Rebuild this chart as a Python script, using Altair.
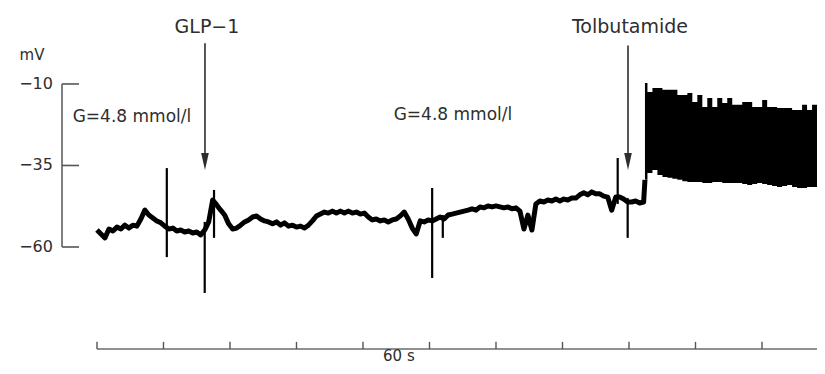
import altair as alt
import pandas as pd

# ---------------- data (seconds, mV) ----------------
DT = 0.6  # sampling step of the resting trace, s
trace_mv = [
    -54.8, -56.0, -57.2, -54.5, -55.1, -53.9, -54.5, -53.3, -54.2, -53.3,
    -53.6, -51.4, -48.7, -50.2, -51.1, -52.0, -52.6, -53.6, -54.5, -54.2,
    -55.1, -54.8, -55.4, -55.1, -55.7, -55.4, -56.3, -54.8, -52.3, -45.6,
    -47.1, -48.7, -50.2, -52.9, -54.5, -54.2, -53.3, -52.3, -51.7, -50.8,
    -50.5, -51.4, -52.0, -52.3, -52.9, -52.3, -53.3, -52.6, -53.6, -53.3,
    -53.9, -53.6, -54.2, -53.3, -52.0, -50.5, -49.9, -49.3, -49.6, -49.0,
    -49.6, -49.0, -49.6, -49.0, -49.6, -49.3, -49.9, -49.6, -50.8, -51.7,
    -51.4, -52.0, -51.7, -52.3, -51.7, -51.4, -50.5, -49.3, -51.4, -54.2,
    -56.0, -52.0, -52.3, -51.7, -52.0, -51.4, -50.8, -51.4, -50.2, -49.9,
    -49.6, -49.3, -49.0, -48.7, -48.3, -48.7, -47.7, -48.0, -47.4, -47.7,
    -47.4, -47.7, -48.0, -47.7, -48.3, -48.0, -49.0, -54.5, -50.2, -54.8,
    -46.8, -45.9, -46.2, -45.6, -45.9, -45.3, -45.9, -45.3, -45.6, -45.0,
    -45.0, -44.0, -43.4, -44.0, -43.1, -43.7, -43.7, -44.4, -44.7, -48.7,
    -44.7, -44.7, -45.3, -46.2, -46.2, -45.9, -46.5, -46.2,
]

spike_t = [10.5, 16.2, 17.6, 50.4, 52.0, 78.3, 79.8]
spike_top = [-35.8, -52.3, -42.5, -41.9, -50.2, -32.7, -45.0]
spike_bottom = [-63.1, -74.1, -57.2, -69.5, -57.2, -46.8, -57.2]

BURST_T0 = 82.4
BURST_DT = 0.75
burst_upper = [
    -9.7, -12.5, -11.2, -11.2, -11.8, -11.8, -11.8, -13.4, -13.4, -12.8,
    -15.5, -13.4, -17.1, -14.3, -17.1, -14.3, -15.8, -14.3, -16.4, -16.4,
    -15.5, -15.5, -17.1, -17.1, -14.9, -17.1, -17.1, -17.4, -17.4, -17.4,
    -18.0, -18.0, -16.4, -18.0, -16.4, -17.4,
]
burst_lower = [
    -39.4, -37.3, -36.4, -37.9, -38.5, -38.8, -39.1, -39.4, -39.8, -40.1,
    -40.1, -40.1, -40.4, -40.4, -40.1, -40.1, -40.4, -40.4, -40.4, -40.4,
    -40.7, -41.0, -40.7, -40.4, -40.7, -41.0, -41.3, -41.6, -41.3, -41.0,
    -41.6, -41.9, -41.9, -41.6, -41.6, -41.6,
]

y_ticks = [-10, -35, -60]
y_tick_labels = ["\u221210", "\u221235", "\u221260"]
x_ticks = [0, 10, 20, 30, 40, 50, 60, 70, 80, 90, 100]

event_names = ["GLP\u22121", "Tolbutamide"]
event_t = [16.24, 79.85]
glucose_text = ["G=4.8 mmol/l", "G=4.8 mmol/l"]
glucose_t = [5.26, 53.53]
glucose_v = [-20.1, -19.5]

# ---------------- layout constants (data units) ----------------
X_DOMAIN = [-13.38, 108.27]
Y_DOMAIN = [-96.5, 13.3]
Y_AXIS_T = -5.26
Y_TICK_END_T = -2.7
Y_LABEL_T = -6.62
X_AXIS_V = -91.3
X_TICK_TOP_V = -89.1

xs = alt.Scale(domain=X_DOMAIN, nice=False, zero=False)
ys = alt.Scale(domain=Y_DOMAIN, nice=False, zero=False)
FONT = "DejaVu Sans"
TXT = "#2e2e2e"

trace = pd.DataFrame({"t": [i * DT for i in range(len(trace_mv))], "v": trace_mv})
trace = pd.concat([trace, pd.DataFrame({"t": [BURST_T0], "v": [burst_lower[0]]})],
                  ignore_index=True)
spikes = pd.DataFrame({"t": spike_t, "top": spike_top, "bottom": spike_bottom})
burst = pd.DataFrame({
    "t": [BURST_T0 + i * BURST_DT for i in range(len(burst_upper))],
    "up": burst_upper, "lo": burst_lower,
})


def X(f):
    return alt.X(f, type="quantitative", scale=xs, axis=None)


def Y(f):
    return alt.Y(f, type="quantitative", scale=ys, axis=None)


line = alt.Chart(trace).mark_line(color="black", strokeWidth=5,
                                  strokeJoin="round").encode(x=X("t"), y=Y("v"))
spk = alt.Chart(spikes).mark_rule(color="black", strokeWidth=2.2).encode(
    x=X("t"), y=Y("top"), y2="bottom")
bur = alt.Chart(burst).mark_area(color="black", opacity=1, clip=True,
                                 interpolate="step").encode(
    x=X("t"), y=Y("up"), y2="lo")

ev = pd.DataFrame({"name": event_names, "t": event_t,
                   "top": [2.5, 1.8], "bot": [-31.5, -31.5],
                   "head": [-33.8, -33.8], "lab": [7.5, 7.5],
                   "labt": [16.54, 80.15]})
arrow_shaft = alt.Chart(ev).mark_rule(color=TXT, strokeWidth=1.6).encode(
    x=X("t"), y=Y("top"), y2="bot")
arrow_head = alt.Chart(ev).mark_point(
    shape="M-0.45,-1L0.45,-1L0,1Z", filled=True, size=289, color=TXT, opacity=1
).encode(x=X("t"), y=Y("head"))
ev_text = alt.Chart(ev).mark_text(font=FONT, fontSize=19, color=TXT,
                                  baseline="middle", align="center").encode(
    x=X("labt"), y=Y("lab"), text="name")

gl = pd.DataFrame({"txt": glucose_text, "t": glucose_t, "v": glucose_v})
gl_text = alt.Chart(gl).mark_text(font=FONT, fontSize=17, color=TXT,
                                  baseline="middle", align="center").encode(
    x=X("t"), y=Y("v"), text="txt")

# y scale bar
yax = pd.DataFrame({"t": [Y_AXIS_T], "a": [max(y_ticks)], "b": [min(y_ticks)]})
yline = alt.Chart(yax).mark_rule(color="#808080", strokeWidth=2).encode(
    x=X("t"), y=Y("a"), y2="b")
yt = pd.DataFrame({"v": y_ticks, "lab": y_tick_labels,
                   "t0": [Y_AXIS_T] * 3, "t1": [Y_TICK_END_T] * 3,
                   "tl": [Y_LABEL_T] * 3})
yticks = alt.Chart(yt).mark_rule(color="#555555", strokeWidth=1.6).encode(
    x=X("t0"), x2="t1", y=Y("v"))
ylabels = alt.Chart(yt).mark_text(font=FONT, fontSize=16, color=TXT,
                                  align="right", baseline="middle").encode(
    x=X("tl"), y=Y("v"), text="lab")
unit = alt.Chart(pd.DataFrame({"t": [-9.77], "v": [-1.1], "s": ["mV"]})).mark_text(
    font=FONT, fontSize=15, color=TXT, align="center", baseline="middle").encode(
    x=X("t"), y=Y("v"), text="s")

# time scale bar
xax = pd.DataFrame({"a": [0], "b": [X_DOMAIN[1]], "v": [X_AXIS_V]})
xline = alt.Chart(xax).mark_rule(color="#909090", strokeWidth=2).encode(
    x=X("a"), x2="b", y=Y("v"))
xt = pd.DataFrame({"t": x_ticks, "a": [X_AXIS_V] * len(x_ticks),
                   "b": [X_TICK_TOP_V] * len(x_ticks)})
xticks = alt.Chart(xt).mark_rule(color="#555555", strokeWidth=1.4).encode(
    x=X("t"), y=Y("a"), y2="b")
xunit = alt.Chart(pd.DataFrame({"t": [45.4], "v": [-93.4], "s": ["60 s"]})).mark_text(
    font=FONT, fontSize=15, color=TXT, align="center", baseline="middle").encode(
    x=X("t"), y=Y("v"), text="s")

chart = alt.layer(
    yline, yticks, ylabels, unit, xline, xticks, xunit,
    line, spk, bur, arrow_shaft, arrow_head, ev_text, gl_text,
).properties(
    width=809, height=358,
    autosize=alt.AutoSizeParams(type="none"),
    padding=0, background="white",
).configure_view(stroke=None)

chart.save("out.html", embed_options={"renderer": "svg", "actions": False})
